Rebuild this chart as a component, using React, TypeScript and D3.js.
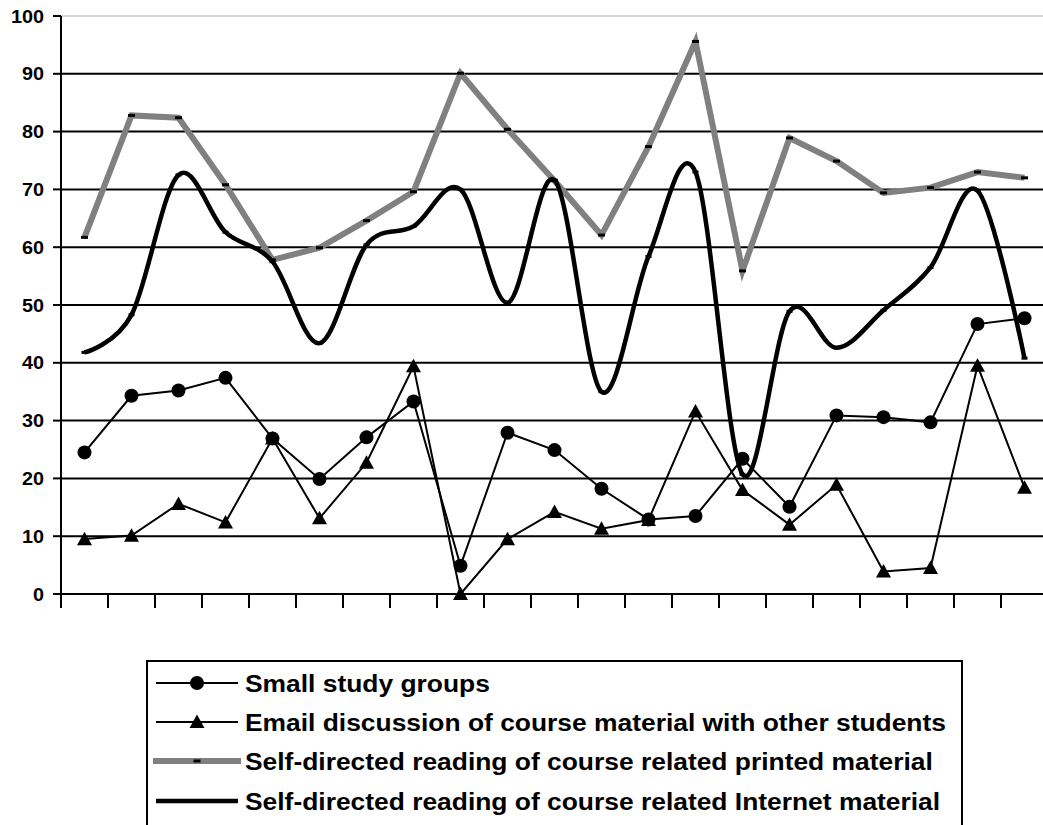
import React from "react";
import * as d3 from "d3";

const categories = d3.range(1, 22).map(String);
const smallGroups = [24.5, 34.3, 35.2, 37.4, 26.9, 19.9, 27.1, 33.3, 4.9, 27.9, 24.9, 18.2, 12.9, 13.5, 23.4, 15.1, 30.9, 30.6, 29.7, 46.7, 47.7];
const emailDiscussion = [9.5, 10.1, 15.6, 12.4, 26.9, 13.1, 22.7, 39.4, 0, 9.5, 14.2, 11.3, 12.8, 31.6, 18.0, 12.0, 18.9, 3.9, 4.5, 39.5, 18.4];
const printedReading = [61.7, 82.8, 82.4, 70.8, 57.8, 59.9, 64.6, 69.6, 90.1, 80.4, 71.5, 62.1, 77.4, 95.6, 55.9, 78.9, 74.9, 69.4, 70.3, 73.0, 72.0];
const internetReading = [41.8, 48.3, 72.5, 62.6, 57.5, 43.4, 60.4, 63.6, 70.0, 50.4, 71.6, 35.0, 58.4, 73.0, 20.7, 48.9, 42.6, 49.1, 56.5, 69.8, 40.8];
const yTicks = [0, 10, 20, 30, 40, 50, 60, 70, 80, 90, 100];
const legendLabels = [
  "Small study groups",
  "Email discussion of course material with other students",
  "Self-directed reading of course related printed material",
  "Self-directed reading of course related Internet material",
];

const W = 1043;
const H = 825;
const left = 61;
const right = 1048;
const top = 16;
const bottom = 594;
const FONT = "'Liberation Sans', Arial, sans-serif";

export default function App() {
  const x = d3.scaleBand<string>().domain(categories).range([left, right]);
  const cx = (i: number) => (x(categories[i]) as number) + x.bandwidth() / 2;
  const y = d3.scaleLinear().domain([0, 100]).range([bottom, top]);

  const straight = d3.line<number>().x((_, i) => cx(i)).y((d) => y(d));
  const smooth = d3
    .line<number>()
    .x((_, i) => cx(i))
    .y((d) => y(d))
    .curve(d3.curveCardinal.tension(0));

  const tri = (px: number, py: number, s = 15) => {
    const h = s * 0.9;
    return `M${px},${py - h * 0.55}L${px + s / 2},${py + h * 0.45}L${px - s / 2},${py + h * 0.45}Z`;
  };

  const bandEdges = categories.map((c) => x(c) as number).concat([right]);

  const legX0 = 156;
  const legX1 = 238;
  const legRows = [683, 722, 761, 801];
  const legTextX = 245;

  return (
    <svg
      width={W}
      height={H}
      style={{ position: "absolute", left: 0, top: 0, background: "#fff" }}
    >
      {yTicks.map((t) => (
        <line
          key={"g" + t}
          x1={left}
          x2={right}
          y1={y(t)}
          y2={y(t)}
          stroke={t === 100 ? "#c8c8c8" : "#000"}
          strokeWidth={t === 100 ? 1.5 : 2}
        />
      ))}
      <line x1={left} x2={left} y1={top} y2={bottom} stroke="#000" strokeWidth={2} />
      {yTicks.map((t) => (
        <g key={"yt" + t}>
          <line x1={left - 8} x2={left} y1={y(t)} y2={y(t)} stroke="#000" strokeWidth={2} />
          <text
            transform={`translate(44,${y(t) + 6.5}) scale(1.1,1)`}
            textAnchor="end"
            fontFamily={FONT}
            fontWeight="bold"
            fontSize={18}
            fill="#000"
          >
            {t}
          </text>
        </g>
      ))}
      <line x1={left} x2={right} y1={bottom} y2={bottom} stroke="#000" strokeWidth={2} />
      {bandEdges.map((e, i) => (
        <line key={"xt" + i} x1={e} x2={e} y1={bottom} y2={bottom + 14} stroke="#000" strokeWidth={2} />
      ))}

      <path d={straight(smallGroups) || ""} fill="none" stroke="#000" strokeWidth={2} />
      {smallGroups.map((v, i) => (
        <circle key={"c" + i} cx={cx(i)} cy={y(v)} r={7} fill="#000" />
      ))}

      <path d={straight(emailDiscussion) || ""} fill="none" stroke="#000" strokeWidth={2} />
      {emailDiscussion.map((v, i) => (
        <path key={"t" + i} d={tri(cx(i), y(v))} fill="#000" />
      ))}

      <path
        d={straight(printedReading) || ""}
        fill="none"
        stroke="#808080"
        strokeWidth={6}
        strokeLinejoin="miter"
      />
      {printedReading.map((v, i) => (
        <rect key={"p" + i} x={cx(i) - 3.5} y={y(v) - 1.5} width={7} height={3} fill="#000" />
      ))}

      <path
        d={smooth(internetReading) || ""}
        fill="none"
        stroke="#000"
        strokeWidth={4.5}
        strokeLinecap="butt"
      />
      {internetReading.map((v, i) => (
        <rect key={"n" + i} x={cx(i) - 3} y={y(v) - 1.5} width={6} height={3} fill="#000" />
      ))}

      <rect x={147} y={661} width={815} height={200} fill="#fff" stroke="#000" strokeWidth={2} />
      <line x1={legX0} x2={legX1} y1={legRows[0]} y2={legRows[0]} stroke="#000" strokeWidth={2} />
      <circle cx={(legX0 + legX1) / 2} cy={legRows[0]} r={7} fill="#000" />
      <line x1={legX0} x2={legX1} y1={legRows[1]} y2={legRows[1]} stroke="#000" strokeWidth={2} />
      <path d={tri((legX0 + legX1) / 2, legRows[1])} fill="#000" />
      <line x1={153} x2={241} y1={legRows[2]} y2={legRows[2]} stroke="#808080" strokeWidth={6} />
      <rect x={(153 + 241) / 2 - 3.5} y={legRows[2] - 1.5} width={7} height={3} fill="#000" />
      <line x1={legX0} x2={legX1} y1={legRows[3]} y2={legRows[3]} stroke="#000" strokeWidth={4.5} />
      {legendLabels.map((lab, i) => (
        <text
          key={"l" + i}
          transform={`translate(${legTextX},${legRows[i] + 8.5}) scale(1.1,1)`}
          fontFamily={FONT}
          fontWeight="bold"
          fontSize={24}
          fill="#000"
        >
          {lab}
        </text>
      ))}
    </svg>
  );
}
